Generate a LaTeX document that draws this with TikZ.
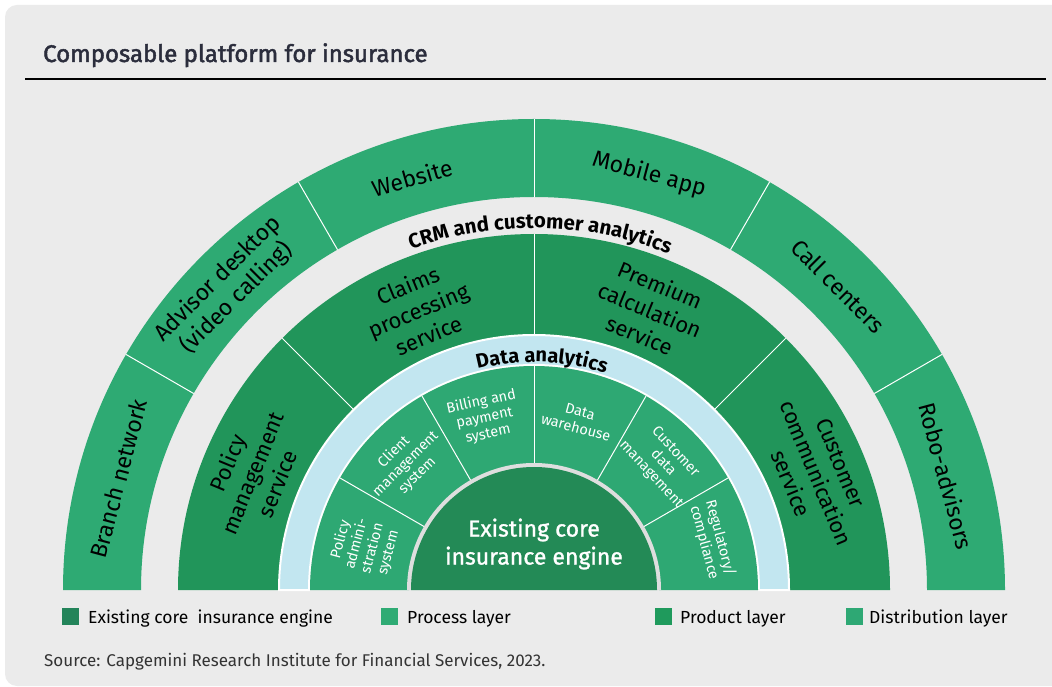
\documentclass[tikz,border=0pt]{standalone}
\usepackage{fontspec}
\setmainfont{Fira Sans}
\usetikzlibrary{decorations.text}
\definecolor{bgc}{HTML}{EBEBEB}
\definecolor{distg}{HTML}{2EAA73}
\definecolor{prodg}{HTML}{21955A}
\definecolor{coreg}{HTML}{238A56}
\definecolor{procg}{HTML}{2EA873}
\definecolor{dablue}{HTML}{C2E6F0}
\definecolor{rimc}{HTML}{DEDEDE}
\definecolor{titlec}{HTML}{2B2D3C}
\definecolor{legcore}{HTML}{23845A}
\definecolor{legproc}{HTML}{2FAB74}
\definecolor{legprod}{HTML}{1F9A5C}
\definecolor{legdist}{HTML}{2EA874}
\definecolor{srcc}{HTML}{333333}
\newcommand{\annsec}[5]{\fill[#1] (#2:#5pt) arc[start angle=#2, end angle=#3, radius=#5pt] -- (#3:#4pt) arc[start angle=#3, end angle=#2, radius=#4pt] -- cycle;}
\tikzset{
 distlab/.style={font=\fontsize{23}{27}\selectfont, align=center, text=black, inner sep=0pt},
 prodlab/.style={font=\fontsize{22}{27}\selectfont, align=center, text=black, inner sep=0pt},
 proclab/.style={font=\fontsize{14.5}{16.5}\selectfont, align=center, text=white, inner sep=0pt},
 divider/.style={white, line width=1pt},
 legbox/.style={minimum size=17pt, inner sep=0pt, anchor=south west},
 legtext/.style={font=\fontsize{17.5}{20}\selectfont, anchor=base west, inner sep=0pt, text=black},
}
\begin{document}
\begin{tikzpicture}[x=1pt,y=1pt]
\useasboundingbox (0,0) rectangle (1052,686);
\fill[white] (0,0) rectangle (1052,686);
\fill[bgc, rounded corners=12pt] (5,0) rectangle (1080,681);
\node[anchor=base west, inner sep=0pt, font=\fontsize{24}{28}\selectfont\addfontfeatures{FakeBold=2}, text=titlec] (title) at (43,624) {Composable platform for insurance};
\coordinate (rl) at (25,607);
\coordinate (rr) at (1046,607);
\draw[line width=1.5pt, black] (rl) -- (rr);
\begin{scope}[shift={(534,96)}]
 \annsec{distg}{0}{180}{393}{471}
 \foreach \a in {30,60,90,120,150} \draw[divider] (\a:393pt) -- (\a:471pt);
 \annsec{prodg}{0}{180}{254}{356}
 \foreach \a in {45,90,135} \draw[divider] (\a:254pt) -- (\a:356pt);
 \draw[white, line width=2pt, fill=dablue] (0:255pt) arc[start angle=0, end angle=180, radius=255pt] -- (180:225pt) arc[start angle=180, end angle=0, radius=225pt] -- cycle;
 \annsec{procg}{0}{180}{125}{224}
 \foreach \a in {30,60,90,120,150} \draw[divider] (\a:125pt) -- (\a:224pt);
 \fill[rimc] (0:127pt) arc[start angle=0, end angle=180, radius=127pt] -- cycle;
 \fill[coreg] (0:123pt) arc[start angle=0, end angle=180, radius=123pt] -- cycle;
 % curved band labels
 \path[decorate, decoration={text along path, text align=center, text={|\fontsize{20.5}{24}\selectfont\bfseries|CRM and customer analytics}}] (149:362pt) arc[start angle=149, end angle=29, radius=362pt];
 \path[decorate, decoration={text along path, text align=center, text={|\fontsize{20}{24}\selectfont\bfseries|Data analytics}}] (148:228pt) arc[start angle=148, end angle=28, radius=228pt];
 % distribution layer
 \node[distlab, rotate=75] (d1) at (165:430pt) {Branch network};
 \node[distlab, rotate=45] (d2) at (135.5:430pt) {Advisor desktop\\(video calling)};
 \node[distlab, rotate=16] (d3) at (106.5:430pt) {Website};
 \node[distlab, rotate=-15] (d4) at (74.5:431pt) {Mobile app};
 \node[distlab, rotate=-45] (d5) at (45:430pt) {Call centers};
 \node[distlab, rotate=-75] (d6) at (15.5:428pt) {Robo-advisors};
 % product layer
 \node[prodlab, rotate=67.5] (p1) at (157.5:305pt) {Policy\\management\\service};
 \node[prodlab, rotate=22.5] (p2) at (112.5:303pt) {Claims\\processing\\service};
 \node[prodlab, rotate=-22.5] (p3) at (67.5:303pt) {Premium\\calculation\\service};
 \node[prodlab, rotate=-67.5] (p4) at (22.5:305pt) {Customer\\communication\\service};
 % process layer
 \node[proclab, rotate=75] (s1) at (165.5:175pt) {Policy\\admini-\\stration\\system};
 \node[proclab, rotate=45] (s2) at (135.5:180pt) {Client\\management\\system};
 \node[proclab, rotate=12] (s3) at (106:179pt) {Billing and\\payment\\system};
 \node[proclab, rotate=-15] (s4) at (75.5:176pt) {Data\\warehouse};
 \node[proclab, rotate=-47] (s5) at (44.5:181pt) {Customer\\data\\management};
 \node[proclab, rotate=-75] (s6) at (15.5:185pt) {Regulatory/\\compliance};
 % core
 \node[font=\fontsize{23}{28}\selectfont\addfontfeatures{FakeBold=1.2}, text=white, align=center, inner sep=0pt] (core) at (0,46) {Existing core\\insurance engine};
\end{scope}
% legend
\node[legbox, fill=legcore] (lg1) at (62,61) {};
\node[legtext] (lt1) at (88,63) {Existing core\ \ insurance engine};
\node[legbox, fill=legproc] (lg2) at (381,61) {};
\node[legtext] (lt2) at (407,63) {Process layer};
\node[legbox, fill=legprod] (lg3) at (655,61) {};
\node[legtext] (lt3) at (680,63) {Product layer};
\node[legbox, fill=legdist] (lg4) at (846,61) {};
\node[legtext] (lt4) at (869,63) {Distribution layer};
\node[anchor=base west, inner sep=0pt, font=\fontsize{17}{20}\selectfont, text=srcc] (src) at (44,20) {Source: Capgemini Research Institute for Financial Services, 2023.};
\end{tikzpicture}
\end{document}
